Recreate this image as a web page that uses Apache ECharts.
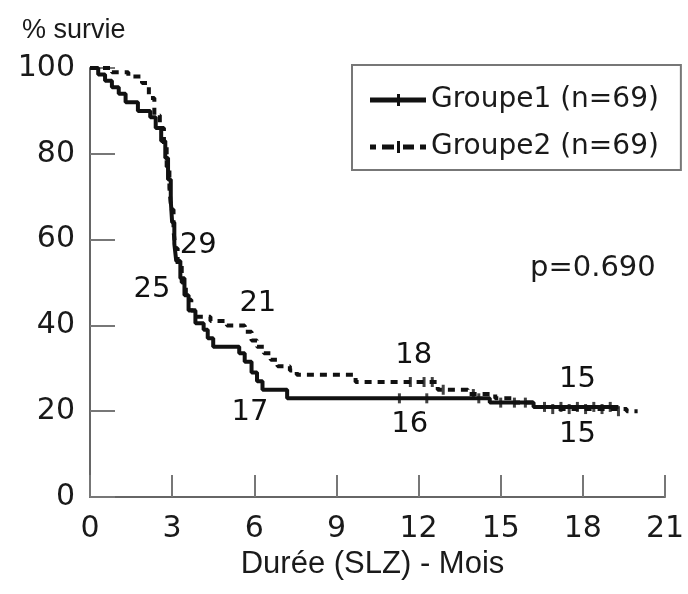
<!DOCTYPE html>
<html>
<head>
<meta charset="utf-8">
<script src="https://cdn.jsdelivr.net/npm/echarts@6/dist/echarts.min.js"></script>
<style>
  html, body { margin: 0; padding: 0; background: #fff; }
  #chart { width: 688px; height: 594px; }
</style>
</head>
<body>
<div id="chart"></div>
<script>
// ---- Data ----
const xTicks = [0, 3, 6, 9, 12, 15, 18, 21];
const yTicks = [0, 20, 40, 60, 80, 100];

const group1Name = 'Groupe1 (n=69)';
const group2Name = 'Groupe2 (n=69)';

// Kaplan-Meier steps [months, % survival]
const group1 = [
  [0, 100], [0.3, 98.5], [0.55, 97], [0.8, 95.5], [1.05, 94], [1.3, 92], [1.75, 90],
  [2.2, 88.5], [2.4, 86], [2.6, 83], [2.75, 79], [2.85, 74], [2.95, 69], [3.0, 64],
  [3.08, 59], [3.15, 55], [3.3, 51], [3.45, 47], [3.6, 43.5], [3.85, 40.5], [4.15, 39],
  [4.3, 37], [4.5, 35], [5.45, 33.5], [5.65, 31.5], [5.9, 29], [6.1, 27], [6.3, 25],
  [7.2, 23], [14.6, 22], [16.2, 21], [19.3, 21]
];
const group2 = [
  [0, 100], [0.8, 99], [1.4, 98], [1.9, 96.5], [2.15, 93], [2.35, 89], [2.55, 86],
  [2.7, 82], [2.8, 77], [2.9, 72], [2.97, 67], [3.05, 62], [3.12, 58], [3.2, 54],
  [3.35, 50], [3.5, 46], [3.7, 43.5], [3.9, 42], [4.4, 41], [5.0, 40], [5.65, 38.5],
  [5.9, 36.5], [6.1, 35], [6.35, 33.5], [6.6, 32], [6.85, 30.5], [7.3, 29.5],
  [7.55, 28.5], [9.7, 26.8], [12.7, 25], [13.8, 24], [14.8, 23], [15.5, 22],
  [16.3, 21], [16.9, 20.5], [19.6, 20], [20.0, 20]
];

// Censored observations [months, % survival]
const censor1 = [
  [11.3, 23], [12.3, 23], [14.2, 23], [15.0, 22], [15.9, 22], [16.6, 21], [17.2, 21],
  [17.8, 21], [18.4, 21], [19.0, 21]
];
const censor2 = [
  [11.7, 26.8], [12.2, 26.8], [12.5, 26.8], [12.9, 25], [14.0, 24], [15.5, 22],
  [16.9, 20.5], [17.5, 20.5], [18.1, 20.5], [18.7, 20.5], [19.3, 20]
];

// Numbers at risk annotations [months, %, text]
const atRisk1 = [[2.26, 48.3, '25'], [5.84, 19.6, '17'], [11.68, 16.8, '16'], [17.8, 14.5, '15']];
const atRisk2 = [[3.95, 58.7, '29'], [6.13, 45.2, '21'], [11.82, 33.1, '18'], [17.8, 27.3, '15']];

const pValueText = 'p=0.690';
const yTitle = '% survie';
const xTitle = 'Durée (SLZ) - Mois';

// ---- Chart ----
const NUMFONT = 'DejaVu Sans';
const FONT = 'Liberation Sans';
// legend icons: line with a censor tick in the middle
const ICON_SOLID = 'path://M0,4.5 H56 V9.5 H0 Z M27,1 H30 V13 H27 Z';
const ICON_DASHED = 'path://M0,4.5 H6 V9.5 H0 Z M12,4.5 H24 V9.5 H12 Z M27,1 H30 V13 H27 Z M33,4.5 H44 V9.5 H33 Z M50,4.5 H56 V9.5 H50 Z';
const chart = echarts.init(document.getElementById('chart'), null, { renderer: 'canvas' });

const atRiskSeries = (data) => ({
  type: 'scatter',
  data: data,
  symbolSize: 1,
  itemStyle: { color: 'rgba(255,255,255,0)' },
  label: {
    show: true, position: 'inside',
    formatter: (p) => p.value[2],
    fontFamily: NUMFONT, fontSize: 29, color: '#111', opacity: 1
  },
  silent: true, z: 5
});

chart.setOption({
  animation: false,
  backgroundColor: '#fff',
  grid: { left: 90, right: 23, top: 68, bottom: 97 },
  legend: {
    data: [{ name: group1Name, icon: ICON_SOLID }, { name: group2Name, icon: ICON_DASHED }],
    orient: 'vertical',
    left: 352, top: 65,
    padding: [21, 22, 9, 18],
    itemGap: 19,
    itemWidth: 56, itemHeight: 14,
    borderColor: '#777', borderWidth: 2,
    itemStyle: { color: '#111', borderWidth: 0 },
    textStyle: { fontFamily: NUMFONT, fontSize: 28, color: '#1a1a1a' }
  },
  xAxis: {
    type: 'value', min: 0, max: 21, interval: 3,
    name: xTitle, nameLocation: 'middle', nameGap: 40,
    nameTextStyle: { fontFamily: FONT, fontSize: 31, color: '#1a1a1a', padding: [0, 10, 0, 0] },
    axisLine: { show: true, lineStyle: { color: '#666', width: 2 } },
    axisTick: { show: true, inside: true, length: 22, lineStyle: { color: '#777', width: 2 } },
    axisLabel: { fontFamily: NUMFONT, fontSize: 30, color: '#1a1a1a', margin: 17 },
    splitLine: { show: false }
  },
  yAxis: {
    type: 'value', min: 0, max: 100, interval: 20,
    name: yTitle, nameLocation: 'end', nameGap: 24,
    nameTextStyle: { fontFamily: FONT, fontSize: 27, color: '#1a1a1a', align: 'left', padding: [0, 0, 0, -68] },
    axisLine: { show: true, lineStyle: { color: '#666', width: 2 } },
    axisTick: { show: true, inside: true, length: 25, lineStyle: { color: '#777', width: 2 } },
    axisLabel: { fontFamily: NUMFONT, fontSize: 30, color: '#1a1a1a', margin: 15 },
    splitLine: { show: false }
  },
  graphic: [{
    type: 'text', left: 530, top: 254,
    style: { text: pValueText, font: '29px "' + NUMFONT + '"', fill: '#1a1a1a' }
  }],
  series: [
    {
      name: group1Name, type: 'line', step: 'end', data: group1,
      symbol: 'none',
      lineStyle: { color: '#111', width: 4 },
      itemStyle: { color: '#111' }, z: 3
    },
    {
      name: group2Name, type: 'line', step: 'end', data: group2,
      symbol: 'none',
      lineStyle: { color: '#111', width: 4, type: [7, 6] },
      itemStyle: { color: '#111' }, z: 3
    },
    {
      name: 'censor1', type: 'scatter', data: censor1,
      symbol: 'rect', symbolSize: [3, 10], itemStyle: { color: '#111' }, z: 4
    },
    {
      name: 'censor2', type: 'scatter', data: censor2,
      symbol: 'rect', symbolSize: [3, 10], itemStyle: { color: '#111' }, z: 4
    },
    atRiskSeries(atRisk1),
    atRiskSeries(atRisk2)
  ]
});
</script>
</body>
</html>
